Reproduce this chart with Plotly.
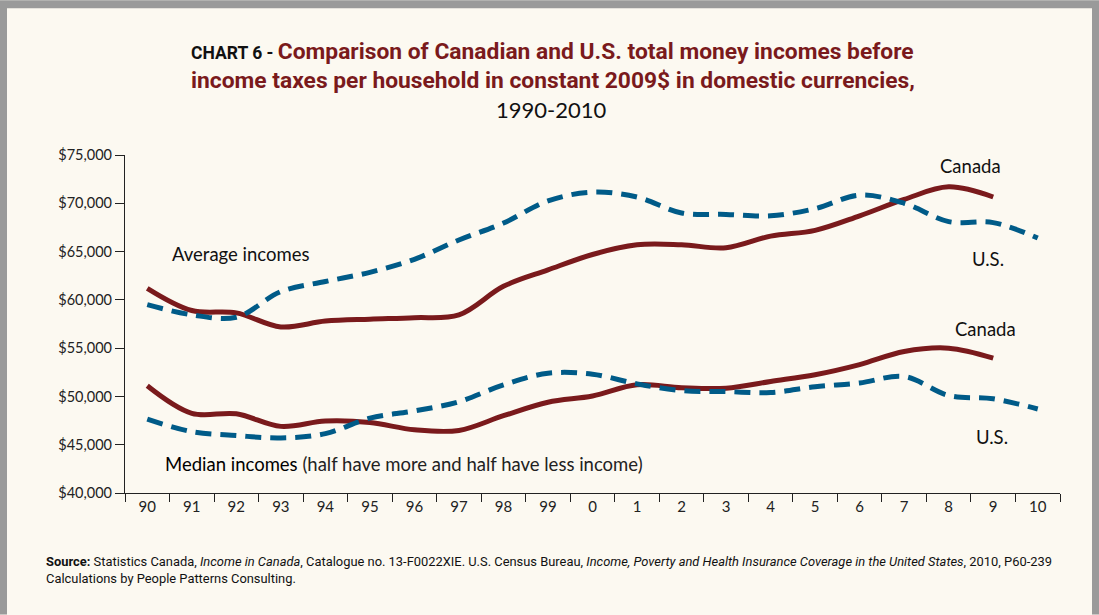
import plotly.graph_objects as go

# Year labels along the x axis (1990-2010)
years = ["90", "91", "92", "93", "94", "95", "96", "97", "98", "99", "0",
         "1", "2", "3", "4", "5", "6", "7", "8", "9", "10"]

# Average household income, constant 2009$ (domestic currencies)
canada_avg = [61200, 58900, 58650, 57200, 57800, 58000, 58150, 58450, 61400, 63100,
              64700, 65700, 65700, 65400, 66600, 67200, 68700, 70400, 71700, 70650, None]
us_avg = [59500, 58450, 58200, 60850, 61900, 62850, 64200, 66200, 67950, 70250,
          71150, 70650, 69000, 68850, 68700, 69450, 70850, 70000, 68100, 68000, 66400]

# Median household income, constant 2009$
canada_med = [51100, 48250, 48200, 46900, 47450, 47300, 46550, 46480, 48000, 49400,
              50050, 51200, 50900, 50850, 51550, 52250, 53300, 54650, 55000, 53970, None]
us_med = [47650, 46350, 45950, 45700, 46150, 47750, 48500, 49450, 51200, 52400,
          52300, 51300, 50600, 50500, 50400, 51000, 51400, 52060, 50100, 49750, 48700]

y_ticks = [40000, 45000, 50000, 55000, 60000, 65000, 70000, 75000]
y_tick_text = ["$40,000", "$45,000", "$50,000", "$55,000", "$60,000", "$65,000",
               "$70,000", "$75,000"]

RED = "#7a1a1c"
BLUE = "#005b88"
BODY_FONT = "Lato, sans-serif"
NARROW = "Roboto, sans-serif"

fig = go.Figure()

for ys, colour, dash in [(canada_avg, RED, "solid"), (us_avg, BLUE, "16px,9px"),
                         (canada_med, RED, "solid"), (us_med, BLUE, "16px,9px")]:
    fig.add_trace(go.Scatter(
        x=years, y=ys, mode="lines",
        line=dict(color=colour, width=5, dash=dash, shape="spline", smoothing=1.0),
        hoverinfo="skip", showlegend=False, connectgaps=False,
    ))

fig.update_xaxes(
    type="category", categoryorder="array", categoryarray=years,
    range=[-0.5, 20.5], tickson="boundaries",
    showline=True, linecolor="#222", linewidth=1.2,
    ticks="outside", ticklen=8, tickcolor="#222", tickwidth=1,
    showgrid=False, zeroline=False,
    tickfont=dict(family=BODY_FONT, size=15, color="#222"),
)
fig.update_yaxes(
    range=[40000, 75000], tickvals=y_ticks, ticktext=y_tick_text,
    showline=True, linecolor="#222", linewidth=1.2,
    ticks="outside", ticklen=9, tickcolor="#222", tickwidth=1,
    showgrid=False, zeroline=False,
    tickfont=dict(family=BODY_FONT, size=14.5, color="#222"),
)

# Plot-area geometry on the page, used to place text by page pixel
L, R, T, B = 125, 39, 155, 121.7
PW, PH = 1099 - L - R, 615 - T - B


def px_x(x):
    return (x - L) / PW


def px_y(y):
    return 1 - (y - T) / PH


annotations = []


def page_text(x, y, text, size, family=BODY_FONT, color="#111", xanchor="center"):
    annotations.append(dict(
        x=px_x(x), y=px_y(y), xref="paper", yref="paper",
        xanchor=xanchor, yanchor="middle", text=text, showarrow=False,
        font=dict(family=family, size=size, color=color),
    ))


# Three-line title
page_text(552, 51, "<b><span style='font-size:17.5px;color:#111'>CHART 6 - </span>"
                   "Comparison of Canadian and U.S. total money incomes before</b>",
          22.8, family=NARROW, color=RED)
page_text(553, 80, "<b>income taxes per household in constant 2009$ in domestic currencies,</b>",
          22.8, family=NARROW, color=RED)
page_text(551, 109, "1990-2010", 22, color="#111")

# Series labels
page_text(241, 254, "Average incomes", 18.5)
page_text(970, 166, "Canada", 18.5)
page_text(988, 259, "U.S.", 18.5)
page_text(985, 329, "Canada", 18.5)
page_text(992, 437, "U.S.", 18.5)
page_text(163, 464, "<span style='color:#000'>Median incomes</span> "
                    "<span style='color:#222'>(half have more and half have less income)</span>",
          18.5, xanchor="left")

# Source notes
page_text(44, 562, "<b>Source:</b> Statistics Canada, <i>Income in Canada</i>, Catalogue no. "
                   "13-F0022XIE. U.S. Census Bureau, <i>Income, Poverty and Health Insurance "
                   "Coverage in the United States</i>, 2010, P60-239",
          12.9, family=NARROW, color="#111", xanchor="left")
page_text(44, 579, "Calculations by People Patterns Consulting.", 12.9, family=NARROW,
          color="#111", xanchor="left")

# Grey frame around the cream panel
shapes = [
    dict(type="rect", xref="paper", yref="paper",
         x0=px_x(0), x1=px_x(1099), y0=px_y(615), y1=px_y(0),
         fillcolor="#9a9a9a", line=dict(width=0), layer="below"),
    dict(type="rect", xref="paper", yref="paper",
         x0=px_x(7), x1=px_x(1092), y0=px_y(616), y1=px_y(8),
         fillcolor="#fcf9f1", line=dict(width=0), layer="below"),
]

fig.update_layout(
    width=1099, height=615,
    margin=dict(l=L, r=R, t=T, b=B, autoexpand=False),
    paper_bgcolor="#fcf9f1", plot_bgcolor="rgba(0,0,0,0)",
    annotations=annotations, shapes=shapes,
)

fig.write_html("out.html")
